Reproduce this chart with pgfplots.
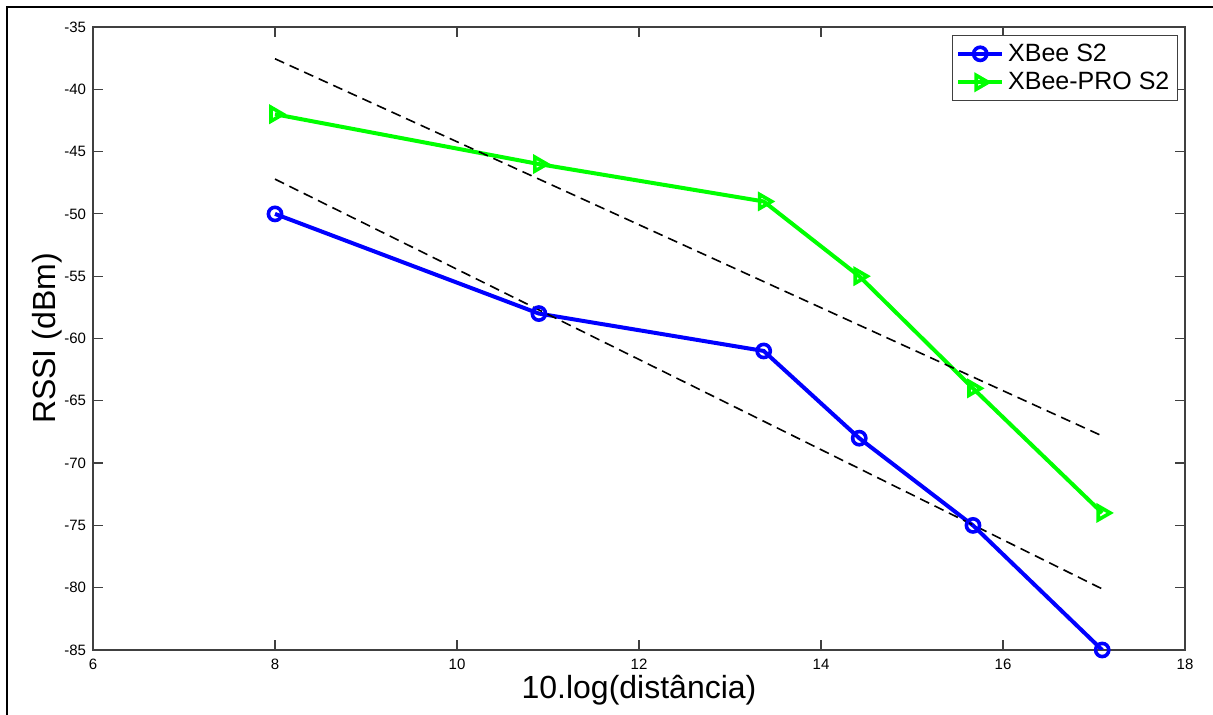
\documentclass[border=0pt]{standalone}
\usepackage{pgfplots}
\pgfplotsset{compat=1.18}
\usepackage{fontspec}
\setmainfont{Liberation Sans}
\begin{document}
\begin{tikzpicture}[x=0.5pt,y=0.5pt]
\path[use as bounding box] (0,0) rectangle (1213,715);
\draw[black, line width=0.8pt] (7,0) -- (7,708) -- (1213,708);
\begin{axis}[
  at={(46.5pt,32.5pt)}, anchor=south west,
  scale only axis, width=546pt, height=311.5pt,
  xmin=6, xmax=18, ymin=-85, ymax=-35,
  xtick={6,8,...,18}, ytick={-85,-80,...,-35},
  tick align=inside, tickpos=both,
  major tick length=5pt,
  axis line style={black!75, line width=0.6pt},
  every tick/.style={black!75, line width=0.6pt},
  /pgf/number format/assume math mode=true,
  tick label style={font=\fontsize{7.5}{9}\selectfont},
  xticklabel style={yshift=-1pt},
  xlabel={10.log(distância)},
  ylabel={RSSI (dBm)},
  label style={font=\fontsize{16}{18}\selectfont},
  xlabel style={at={(axis description cs:0.5,0)}, anchor=center, yshift=-20pt},
  ylabel style={at={([xshift=-23pt]axis description cs:0,0.5)}, anchor=center},
  legend style={at={(axis description cs:1,1)}, anchor=north east, xshift=-3.5pt, yshift=-4pt,
    draw=black!75, line width=0.6pt, font=\fontsize{12.5}{14.5}\selectfont,
    inner xsep=2pt, inner ysep=2pt, row sep=0pt},
  legend cell align=left,
  legend image code/.code={\draw[#1] (0pt,0pt) -- (22pt,0pt); \draw[#1, only marks] plot coordinates {(11pt,0pt)};},
]
\addplot[blue, line width=2pt, mark=o, mark size=3.3pt, mark options={line width=1.8pt}]
  coordinates {(8.0,-50) (10.9,-58) (13.37,-61) (14.42,-68) (15.67,-75) (17.09,-85)};
\addlegendentry{XBee S2}
\addplot[green, line width=2pt, mark=triangle, mark size=4pt, mark options={rotate=-90, line width=1.8pt}]
  coordinates {(8.0,-42) (10.9,-46) (13.37,-49) (14.42,-55) (15.67,-64) (17.09,-74)};
\addlegendentry{XBee-PRO S2}
\addplot[black, line width=0.8pt, dash pattern=on 5pt off 3pt, forget plot]
  coordinates {(8.0,-47.21) (17.09,-80.10)};
\addplot[black, line width=0.8pt, dash pattern=on 5pt off 3pt, forget plot]
  coordinates {(8.0,-37.55) (17.09,-67.82)};
\end{axis}
\end{tikzpicture}
\end{document}
